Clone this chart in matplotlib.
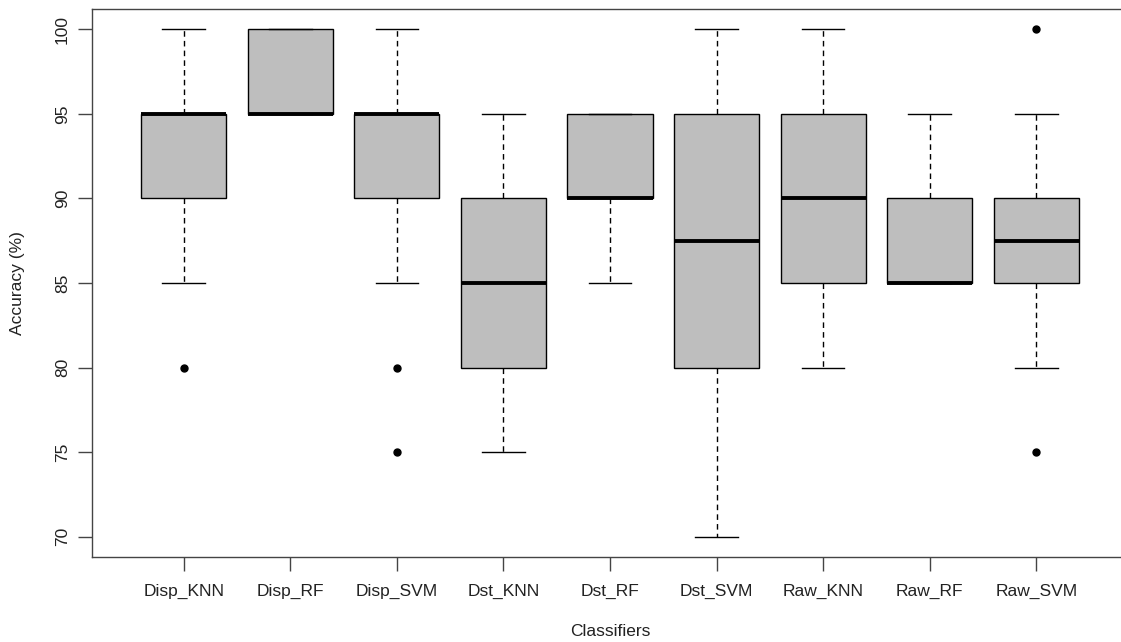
import matplotlib
matplotlib.use("Agg")
import matplotlib.pyplot as plt

classifiers = ["Disp_KNN", "Disp_RF", "Disp_SVM", "Dst_KNN", "Dst_RF",
               "Dst_SVM", "Raw_KNN", "Raw_RF", "Raw_SVM"]
whisker_low = [85, 95, 85, 75, 85, 70, 80, 85, 80]
q1 = [90, 95, 90, 80, 90, 80, 85, 85, 85]
median = [95, 95, 95, 85, 90, 87.5, 90, 85, 87.5]
q3 = [95, 100, 95, 90, 95, 95, 95, 90, 90]
whisker_high = [100, 100, 100, 95, 95, 100, 100, 95, 95]
outliers = [[80], [], [80, 75], [], [], [], [], [], [100, 75]]
yticks = [70, 75, 80, 85, 90, 95, 100]

plt.rcParams['font.family'] = ['Liberation Sans', 'DejaVu Sans']

fig = plt.figure(figsize=(11.21, 6.42), dpi=100)
W, H = 1121, 642
left, right, top, bottom = 92, 1128, 9, 557
ax = fig.add_axes([left / W, 1 - bottom / H, (right - left) / W, (bottom - top) / H])

stats = []
for i, name in enumerate(classifiers):
    stats.append(dict(label=name, whislo=whisker_low[i], q1=q1[i], med=median[i],
                      q3=q3[i], whishi=whisker_high[i], fliers=outliers[i]))

ax.bxp(stats, positions=range(1, len(classifiers) + 1), widths=0.8,
       patch_artist=True, showfliers=True,
       boxprops=dict(facecolor='#bebebe', edgecolor='black', linewidth=1.0),
       medianprops=dict(color='black', linewidth=2.8, solid_capstyle='butt'),
       whiskerprops=dict(color='black', linewidth=1.0, linestyle=(0, (4, 3))),
       capprops=dict(color='black', linewidth=1.0),
       capwidths=0.4,
       flierprops=dict(marker='o', markerfacecolor='black', markeredgecolor='black',
                       markersize=5, linestyle='none'))

ax.set_xlim(0.14, 9.86)
ax.set_ylim(68.8, 101.2)
ax.set_yticks(yticks)
ax.set_yticklabels([str(v) for v in yticks], rotation=90, va='center')
ax.set_xticks(range(1, len(classifiers) + 1))
ax.set_xticklabels(classifiers)

for s in ax.spines.values():
    s.set_color('#444444')
    s.set_linewidth(1.0)
ax.tick_params(axis='both', length=10, width=1.0, color='#444444',
               labelsize=12.5, labelcolor='#222222')
ax.tick_params(axis='y', pad=6)
ax.tick_params(axis='x', pad=9)

ax.set_ylabel('Accuracy (%)', fontsize=12.5, color='#222222', va='center')
ax.set_xlabel('Classifiers', fontsize=12.5, color='#222222', va='center')
ax.yaxis.set_label_coords((18 - left) / (right - left), 0.5)
ax.xaxis.set_label_coords((610 - left) / (right - left), (bottom - 631) / (bottom - top))

fig.savefig('out.png', dpi=100)
